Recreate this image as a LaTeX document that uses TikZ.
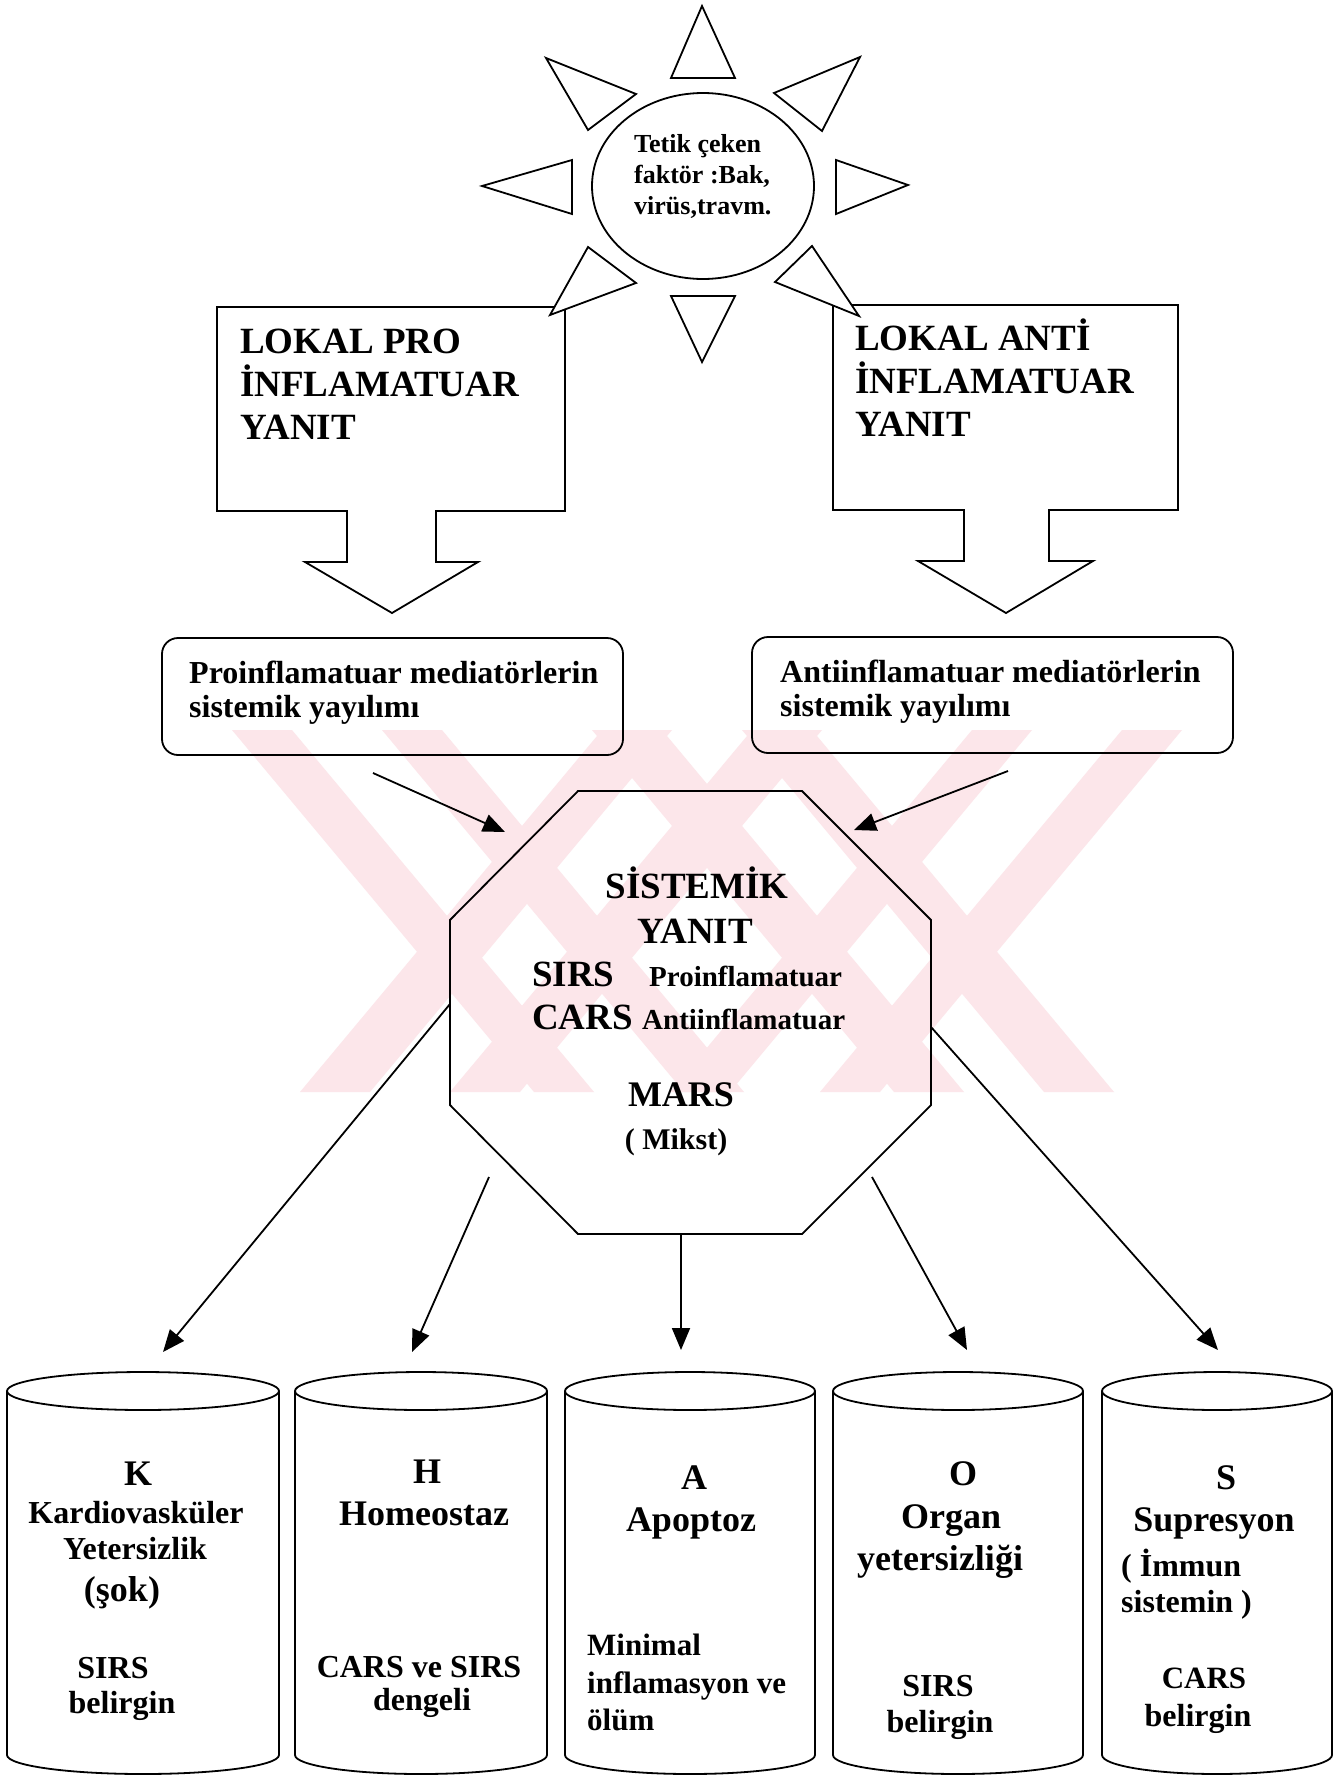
\documentclass[tikz,border=0pt]{standalone}
\usepackage{fontspec}
\setmainfont{Liberation Serif}
\usetikzlibrary{shapes.geometric,arrows.meta}
\newcommand\myfs[2]{\fontsize{#1}{#2}\selectfont}
\newcommand\mycyl[2]{%
  \draw[outl] (#1-#2,1391) -- (#1-#2,1755) arc[start angle=180,end angle=0,x radius=#2,y radius=19] -- (#1+#2,1391);
  \draw[outl] (#1,1391) ellipse[x radius=#2,y radius=19];}
\definecolor{wmark}{RGB}{252,230,234}
\begin{document}
\begin{tikzpicture}[x=1pt,y=-1pt,
  outl/.style={draw=black, line width=1.8pt, line join=miter},
  conn/.style={draw=black, line width=1.8pt, -{Triangle[length=22pt,width=18pt]}},
  lbl/.style={inner sep=0pt, anchor=base, font=\bfseries\myfs{#1}{#1}},
  lbll/.style={inner sep=0pt, anchor=base west, align=left, font=\bfseries\myfs{#1}{#1}},
  ray/.style={draw=black, line width=1.8pt, fill=white, line join=miter}]
\fill[white] (0,0) rectangle (1334,1775);
\useasboundingbox (0,0) rectangle (1334,1775);

% faint watermark behind the diagram
\begin{scope}
  \clip (232,730) rectangle (1182,1092);
  \foreach \x in {232,382} {
    \fill[wmark] (\x,730) -- (\x+60,730) -- (\x+362,1092) -- (\x+302,1092) -- cycle;
    \fill[wmark] (1414-\x,730) -- (1354-\x,730) -- (1052-\x,1092) -- (1112-\x,1092) -- cycle;}
  \foreach \x in {300,450} {
    \fill[wmark] (\x,1092) -- (\x+70,1092) -- (\x+372,730) -- (\x+302,730) -- cycle;
    \fill[wmark] (1414-\x,1092) -- (1344-\x,1092) -- (1042-\x,730) -- (1112-\x,730) -- cycle;}
\end{scope}

% local response callouts
\draw[outl, fill=white] (217,307) -- (565,307) -- (565,511) -- (436,511) -- (436,562) -- (478,562) -- (392,613) -- (305,562) -- (347,562) -- (347,511) -- (217,511) -- cycle;
\node[lbll=37, font=\bfseries\myfs{37}{43}] (lpro) at (240,439) {LOKAL PRO\\İNFLAMATUAR\\YANIT};
\draw[outl, fill=white] (833,305) -- (1178,305) -- (1178,510) -- (1049,510) -- (1049,561) -- (1093,561) -- (1006,613) -- (918,561) -- (964,561) -- (964,510) -- (833,510) -- cycle;
\node[lbll=37, font=\bfseries\myfs{37}{43}] (lanti) at (855,436) {LOKAL ANTİ\\İNFLAMATUAR\\YANIT};

% sun
\draw[ray] (702,6) -- (735,78) -- (671,78) -- cycle;
\draw[ray] (671,296) -- (735,296) -- (702,362) -- cycle;
\draw[ray] (482,186) -- (572,160) -- (572,214) -- cycle;
\draw[ray] (908,185) -- (836,160) -- (836,214) -- cycle;
\draw[ray] (546,58) -- (636,94) -- (588,130) -- cycle;
\draw[ray] (860,57) -- (774,93) -- (822,131) -- cycle;
\draw[ray] (588,247) -- (636,283) -- (550,315) -- cycle;
\draw[ray] (812,246) -- (775,282) -- (859,316) -- cycle;
\node[ellipse, draw, line width=1.8pt, fill=white, minimum width=222pt, minimum height=186pt] (sun) at (703,186) {};
\node[lbll=26, font=\bfseries\myfs{26}{31}] (suntxt) at (634,214) {Tetik çeken\\faktör :Bak,\\virüs,travm.};

% mediator boxes
\node[draw, line width=1.8pt, rounded corners=16pt, minimum width=461pt, minimum height=117pt] (pbox) at (392.5,696.5) {};
\node[lbll=32, font=\bfseries\myfs{32}{34}] (ptxt) at (189,717) {Proinflamatuar mediatörlerin\\sistemik yayılımı};
\node[draw, line width=1.8pt, rounded corners=16pt, minimum width=481pt, minimum height=116pt] (abox) at (992.5,695) {};
\node[lbll=32, font=\bfseries\myfs{32}{34}] (atxt) at (780,716) {Antiinflamatuar mediatörlerin\\sistemik yayılımı};

% arrows into systemic response
\coordinate (pa) at (373,773); \coordinate (pb) at (505,832);
\coordinate (qa) at (1008,771); \coordinate (qb) at (854,830);
\draw[conn] (pa) -- (pb);
\draw[conn] (qa) -- (qb);

% octagon
\draw[outl] (578,791) -- (802,791) -- (931,920) -- (931,1105) -- (802,1234) -- (578,1234) -- (450,1105) -- (450,920) -- cycle;
\node[lbl=37] (o1) at (697,898) {SİSTEMİK};
\node[lbl=37] (o2) at (695,943) {YANIT};
\node[lbll=37] (o3) at (532,986) {SIRS};
\node[lbll=29] (o4) at (649,986) {Proinflamatuar};
\node[lbll=37] (o5) at (532,1029) {CARS};
\node[lbll=29] (o6) at (642,1029) {Antiinflamatuar};
\node[lbl=36] (o7) at (681,1106) {MARS};
\node[lbl=30] (o8) at (676,1149) {( Mikst)};

% arrows to outcomes
\coordinate (s1) at (450,1004); \coordinate (e1) at (163,1352);
\coordinate (s2) at (489,1177); \coordinate (e2) at (412,1352);
\coordinate (s3) at (681,1234); \coordinate (e3) at (681,1350);
\coordinate (s4) at (872,1177); \coordinate (e4) at (967,1350);
\coordinate (s5) at (931,1027); \coordinate (e5) at (1218,1350);
\foreach \i in {1,...,5} {\draw[conn] (s\i) -- (e\i);}

% cylinders
\mycyl{143}{136}
\mycyl{421}{126}
\mycyl{690}{125}
\mycyl{958}{125}
\mycyl{1217}{115}

% cylinder texts
\node[lbl=36] (k1) at (138,1485) {K};
\node[lbl=32] (k2) at (136,1523) {Kardiovasküler};
\node[lbl=32] (k3) at (135,1559) {Yetersizlik};
\node[lbl=36] (k4) at (122,1601) {(şok)};
\node[lbl=32] (k5) at (113,1678) {SIRS};
\node[lbl=32] (k6) at (122,1713) {belirgin};

\node[lbl=36] (h1) at (427,1483) {H};
\node[lbl=36] (h2) at (424,1525) {Homeostaz};
\node[lbl=32] (h3) at (419,1677) {CARS ve SIRS};
\node[lbl=32] (h4) at (422,1710) {dengeli};

\node[lbl=36] (a1) at (694,1489) {A};
\node[lbl=36] (a2) at (691,1531) {Apoptoz};
\node[lbll=31] (a3) at (587,1655) {Minimal};
\node[lbll=31] (a4) at (587,1693) {inflamasyon ve};
\node[lbll=31] (a5) at (587,1730) {ölüm};

\node[lbl=36] (g1) at (963,1485) {O};
\node[lbl=36] (g2) at (951,1528) {Organ};
\node[lbl=36] (g3) at (940,1570) {yetersizliği};
\node[lbl=32] (g4) at (938,1696) {SIRS};
\node[lbl=32] (g5) at (940,1732) {belirgin};

\node[lbl=36] (u1) at (1226,1489) {S};
\node[lbl=36] (u2) at (1214,1531) {Supresyon};
\node[lbll=32] (u3) at (1121,1576) {( İmmun};
\node[lbll=32] (u4) at (1121,1612) {sistemin )};
\node[lbl=31] (u5) at (1204,1688) {CARS};
\node[lbl=32] (u6) at (1198,1726) {belirgin};
\end{tikzpicture}
\end{document}
